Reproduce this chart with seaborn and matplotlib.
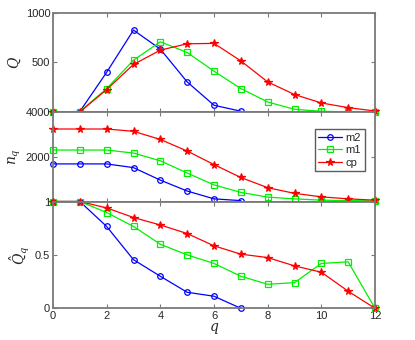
import numpy as np
import pandas as pd
import seaborn as sns
import matplotlib
matplotlib.use('Agg')
import matplotlib.pyplot as plt

sns.set_style('white')
plt.rcParams['font.family'] = ['Liberation Sans', 'DejaVu Sans']
plt.rcParams['mathtext.fontset'] = 'dejavuserif'

# data
q = list(range(13))

# top panel: Q
Q_m2 = [0, 5, 400, 825, 633, 303, 68, 8]
Q_m1 = [0, 5, 236, 522, 707, 600, 411, 236, 101, 27, 7, 2, 0]
Q_cp = [0, 0, 226, 479, 623, 687, 691, 515, 303, 176, 91, 44, 10]

# middle panel: n_q
n_m2 = [1680, 1680, 1680, 1514, 955, 468, 118, 40]
n_m1 = [2300, 2300, 2300, 2164, 1818, 1273, 741, 409, 195, 118, 60, 40, 30]
n_cp = [3240, 3240, 3240, 3136, 2773, 2255, 1650, 1073, 618, 364, 209, 118, 60]

# bottom panel: Q hat
h_m2 = [1, 1, 0.766, 0.455, 0.30, 0.15, 0.113, 0]
h_m1 = [1, 1, 0.897, 0.766, 0.60, 0.50, 0.42, 0.30, 0.225, 0.24, 0.42, 0.435, 0]
h_cp = [1, 1, 0.94, 0.85, 0.78, 0.70, 0.585, 0.507, 0.475, 0.397, 0.338, 0.16, 0]

names = ['m2', 'm1', 'cp']
colors = {'m2': '#0000ff', 'm1': '#00f000', 'cp': '#ff0000'}
markers = {'m2': 'o', 'm1': 's', 'cp': '*'}

# the 0 of the upper panels sits under the top label of the panel below it
panels = [
    ([Q_m2, Q_m1, Q_cp], (0, 1000), [500, 1000], ['500', '1000'], r'$Q$'),
    ([n_m2, n_m1, n_cp], (0, 4000), [2000, 4000], ['2000', '4000'], r'$n_q$'),
    ([h_m2, h_m1, h_cp], (0, 1), [0, 0.5, 1], ['0', '0.5', '1'], r'$\hat{Q}_q$'),
]

W, H = 415, 340
fig = plt.figure(figsize=(W / 100, H / 100), dpi=100)
# axes rectangles in pixels: (top, bottom)
rows = [(12.7, 112.0), (112.0, 201.5), (201.5, 308.3)]
left, right = 53, 375
edge = '#7a7a7a'

for i, (series, ylim, yt, ytl, ylab) in enumerate(panels):
    top, bot = rows[i]
    ax = fig.add_axes([left / W, 1 - bot / H, (right - left) / W, (bot - top) / H])
    for name, vals in zip(names, series):
        c = colors[name]
        mfc = c if name == 'cp' else 'none'
        ms = 5.5 if name == 'cp' else 4
        sns.lineplot(x=q[:len(vals)], y=vals, ax=ax, color=c, marker=markers[name],
                     markersize=ms, markerfacecolor=mfc, markeredgecolor=c,
                     markeredgewidth=0.9, linewidth=0.9, label=name, clip_on=False)
    ax.set_xlim(0, 12)
    ax.set_ylim(*ylim)
    ax.set_yticks(yt)
    ax.set_yticklabels(ytl)
    ax.set_xticks(range(0, 13, 2))
    ax.tick_params(direction='in', length=3, width=0.8, color=edge,
                   labelsize=8, right=True, top=True, bottom=True, left=True, pad=2)
    for s in ax.spines.values():
        s.set_color(edge)
        s.set_linewidth(1.3)
    ax.set_ylabel(ylab, fontsize=10, labelpad=2)
    if i < 2:
        ax.set_xticklabels([])
        ax.set_xlabel('')
    else:
        ax.set_xlabel(r'$q$', fontsize=10, labelpad=0)
    if i == 1:
        ax.legend(loc='upper right', fontsize=8, frameon=True, fancybox=False,
                  edgecolor='#333333', handlelength=2.2, handletextpad=0.3,
                  borderpad=0.3, labelspacing=0.25, bbox_to_anchor=(0.985, 0.87))
    else:
        lg = ax.get_legend()
        if lg is not None:
            lg.remove()

fig.savefig('out.png', dpi=100, facecolor='white')
